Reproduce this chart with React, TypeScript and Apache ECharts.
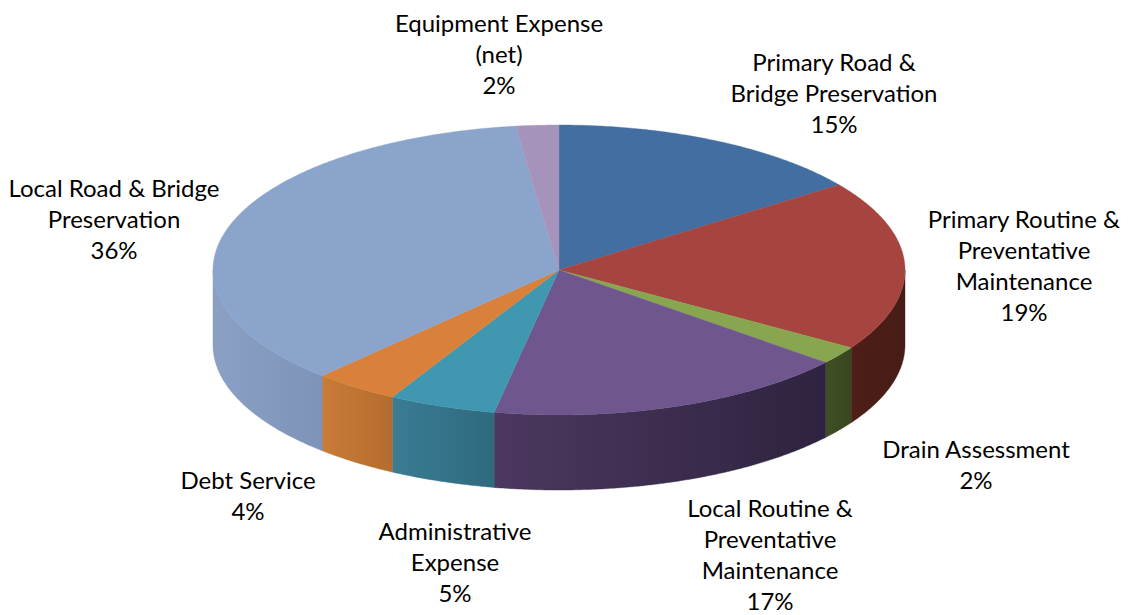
import React, { useEffect, useRef } from "react";
import * as echarts from "echarts";

const categories = [
  "Primary Road &\nBridge Preservation",
  "Primary Routine &\nPreventative\nMaintenance",
  "Drain Assessment",
  "Local Routine &\nPreventative\nMaintenance",
  "Administrative\nExpense",
  "Debt Service",
  "Local Road & Bridge\nPreservation",
  "Equipment Expense\n(net)",
];
const shares = [15, 19, 2, 17, 5, 4, 36, 2];

const topColors = ["#426EA2", "#A6443F", "#88A650", "#70568F", "#3F97B0", "#D9813A", "#8BA4CC", "#A593BC"];
const wallStartColors = ["#426EA2", "#4E1E18", "#3F4E24", "#4C385F", "#3A7C93", "#C97C37", "#8AA0C4", "#A593BC"];
const wallEndColors = ["#426EA2", "#481C16", "#394720", "#2E2340", "#2F6A7E", "#B46C2F", "#7E93B8", "#A593BC"];
const labelCenters = [
  [834, 92],
  [1024, 265],
  [976, 464],
  [770, 554],
  [455, 561],
  [248, 495],
  [114, 218],
  [499, 53],
];

const CX = 559;
const CY = 270;
const RX = 346;
const RY = 145;
const DEPTH = 75;
const FONT = "Lato";
const total = shares.reduce((a, b) => a + b, 0);

const rim = (deg: number, dy = 0): number[] => {
  const r = (deg * Math.PI) / 180;
  return [CX + RX * Math.sin(r), CY - RY * Math.cos(r) + dy];
};

const arcPoints = (a: number, b: number, dy = 0): number[][] => {
  const n = Math.max(2, Math.ceil(Math.abs(b - a) * 2));
  const pts: number[][] = [];
  for (let i = 0; i <= n; i++) pts.push(rim(a + ((b - a) * i) / n, dy));
  return pts;
};

export default function App() {
  const ref = useRef<HTMLDivElement>(null);
  useEffect(() => {
    document.body.style.margin = "0";
    const chart = echarts.init(ref.current!, null, { renderer: "svg" });
    const renderItem = (params: any, api: any) => {
      const i = params.dataIndex;
      const before = shares.slice(0, i).reduce((a, b) => a + b, 0);
      const start = (before / total) * 360;
      const end = start + (api.value(0) / total) * 360;
      const children: any[] = [];
      const w1 = Math.max(start, 90);
      const w2 = Math.min(end, 270);
      if (w2 > w1) {
        children.push({
          type: "polygon",
          shape: { points: [...arcPoints(w1, w2), ...arcPoints(w2, w1, DEPTH)] },
          style: {
            fill: new echarts.graphic.LinearGradient(0, 0, 1, 0, [
              { offset: 0, color: wallStartColors[i] },
              { offset: 1, color: wallEndColors[i] },
            ]),
            stroke: wallEndColors[i],
            lineWidth: 0.4,
          },
        });
      }
      children.push({
        type: "polygon",
        shape: { points: [[CX, CY], ...arcPoints(start, end)] },
        style: { fill: topColors[i], stroke: topColors[i], lineWidth: 0.4 },
      });
      children.push({
        type: "text",
        x: labelCenters[i][0],
        y: labelCenters[i][1],
        style: {
          text: `${categories[i]}\n${api.value(0)}%`,
          fill: "#000000",
          font: `24px ${FONT}`,
          lineHeight: 31,
          align: "center",
          verticalAlign: "middle",
        },
      });
      return { type: "group", children };
    };
    chart.setOption({
      animation: false,
      backgroundColor: "#ffffff",
      series: [
        {
          type: "custom",
          coordinateSystem: "none",
          silent: true,
          renderItem,
          data: shares.map((v, i) => ({ name: categories[i], value: [v] })),
        },
      ],
    });
    return () => chart.dispose();
  }, []);
  return <div ref={ref} style={{ position: "fixed", left: 0, top: 0, width: 1130, height: 615 }} />;
}
